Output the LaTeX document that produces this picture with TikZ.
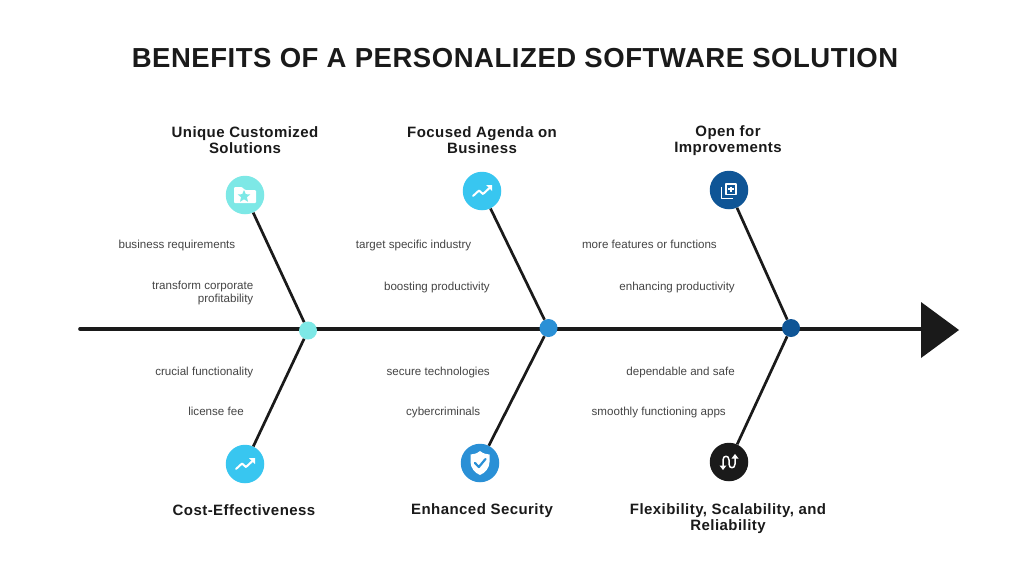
\documentclass[tikz,border=0pt]{standalone}
\usepackage{fontspec}
\setmainfont{Liberation Sans}
\newfontfamily\titlefont[LetterSpace=2]{Liberation Sans Bold}
\newfontfamily\headfont[LetterSpace=3]{Liberation Sans Bold}
\definecolor{ink}{HTML}{1A1A1A}
\definecolor{aqua}{HTML}{7DE8E6}
\definecolor{sky}{HTML}{38C6F0}
\definecolor{azure}{HTML}{2A90D6}
\definecolor{navy}{HTML}{0F5596}
\definecolor{txt}{HTML}{454545}
\begin{document}
\begin{tikzpicture}[x=1pt,y=-1pt,
  bone/.style={draw=ink,line width=2.7pt},
  spine/.style={draw=ink,line width=3.6pt,line cap=round},
  badge/.style={circle,minimum size=38.5pt,inner sep=0pt},
  joint/.style={circle,minimum size=18pt,inner sep=0pt},
  heading/.style={font=\headfont\fontsize{15}{16}\selectfont,text=ink,align=center,anchor=center,inner sep=0pt},
  note/.style={font=\fontsize{11.6}{12.5}\selectfont,text=txt,align=right,anchor=base east,inner sep=0pt},
  glyph/.style={draw=white,line width=1.8pt,line cap=round,line join=round}]
\useasboundingbox (0,0) rectangle (1024,576);
\fill[white] (0,0) rectangle (1024,576);

\node[font=\titlefont\fontsize{27.5}{30}\selectfont,text=ink,inner sep=0pt] (title) at (515,58) {BENEFITS OF A PERSONALIZED SOFTWARE SOLUTION};

% spine
\coordinate (tail) at (80,329);
\coordinate (head) at (925,329);
\draw[spine] (tail) -- (head);
\fill[ink] (921,302) -- (959,330) -- (921,358) -- cycle;

% badges and joints
\node[badge,fill=aqua] (b1) at (245,195) {};
\node[badge,fill=sky] (b2) at (482,191) {};
\node[badge,fill=navy] (b3) at (729,190) {};
\node[badge,fill=sky] (b4) at (245,464) {};
\node[badge,fill=azure] (b5) at (480,463) {};
\node[badge,fill=ink] (b6) at (729,462) {};
\node[joint,fill=aqua] (j1) at (308,330.5) {};
\node[joint,fill=azure] (j2) at (548.5,328) {};
\node[joint,fill=navy] (j3) at (791,328) {};

\draw[bone] (b1) -- (j1);
\draw[bone] (b2) -- (j2);
\draw[bone] (b3) -- (j3);
\draw[bone] (b4) -- (j1);
\draw[bone] (b5) -- (j2);
\draw[bone] (b6) -- (j3);

% headings
\node[heading] (h1) at (245,140) {Unique Customized\\Solutions};
\node[heading] (h2) at (482,140) {Focused Agenda on\\Business};
\node[heading] (h3) at (728,140.5) {Open for\\Improvements};
\node[heading] (h4) at (244,510) {Cost-Effectiveness};
\node[heading] (h5) at (482,510.5) {Enhanced Security};
\node[heading] (h6) at (728,518.5) {Flexibility, Scalability, and\\Reliability};

% notes
\node[note] (n1) at (235.5,248) {business requirements};
\node[note,anchor=east] (n2) at (253.5,293) {transform corporate\\profitability};
\node[note] (n3) at (253.5,375) {crucial functionality};
\node[note] (n4) at (244,415) {license fee};
\node[note] (n5) at (471.5,248) {target specific industry};
\node[note] (n6) at (490,290) {boosting productivity};
\node[note] (n7) at (490,375) {secure technologies};
\node[note] (n8) at (480.5,415) {cybercriminals};
\node[note] (n9) at (717,248) {more features or functions};
\node[note] (n10) at (735,290) {enhancing productivity};
\node[note] (n11) at (735,375) {dependable and safe};
\node[note] (n12) at (726,415) {smoothly functioning apps};

% folder icon
\begin{scope}[shift={(b1.center)}]
\fill[white,rounded corners=1pt] (-11,-8) -- (-3,-8) -- (0,-5) -- (11,-5) -- (11,8) -- (-11,8) -- cycle;
\fill[aqua] (-1,-5) -- (0.8,-0.8) -- (5.3,-0.6) -- (1.9,2.2) -- (3,6.8) -- (-1,4.3) -- (-5,6.8) -- (-3.9,2.2) -- (-7.3,-0.6) -- (-2.8,-0.8) -- cycle;
\end{scope}
% trend icons
\foreach \b in {b2,b4}{
\begin{scope}[shift={(\b.center)}]
\draw[glyph,line width=2pt] (-9,5) -- (-3,-0.5) -- (1,3) -- (8,-3.5);
\fill[white] (4,-6) -- (10,-6) -- (10,0) -- cycle;
\end{scope}}
% copy-plus icon
\begin{scope}[shift={(b3.center)}]
\draw[glyph,line cap=butt] (-3,-6) rectangle (7,4.5);
\draw[glyph,line cap=butt] (2,-3.5) -- (2,2) (-0.75,-0.75) -- (4.75,-0.75);
\draw[glyph,line cap=butt] (-7.5,-3) -- (-7.5,8.5) -- (3.5,8.5);
\end{scope}
% shield icon
\begin{scope}[shift={(b5.center)}]
\fill[white] (0,-12) .. controls (3,-9.5) and (6.5,-8.5) .. (9.5,-8.5) -- (9.5,-1) .. controls (9.5,5) and (5,10) .. (0,12) .. controls (-5,10) and (-9.5,5) .. (-9.5,-1) -- (-9.5,-8.5) .. controls (-6.5,-8.5) and (-3,-9.5) .. (0,-12) -- cycle;
\draw[azure,line width=2.2pt,line cap=round,line join=round] (-5,0) -- (-1.2,4) -- (5.5,-4);
\end{scope}
% flex arrows icon
\begin{scope}[shift={(b6.center)}]
\draw[glyph,line width=1.5pt,line cap=butt] (-6,5) -- (-6,-2) .. controls (-6,-7) and (0,-7) .. (0,-2) -- (0,2) .. controls (0,7) and (6,7) .. (6,2) -- (6,-5);
\fill[white] (-9.5,3.5) -- (-2.5,3.5) -- (-6,8) -- cycle;
\fill[white] (2.5,-3.5) -- (9.5,-3.5) -- (6,-8) -- cycle;
\end{scope}
\end{tikzpicture}
\end{document}
